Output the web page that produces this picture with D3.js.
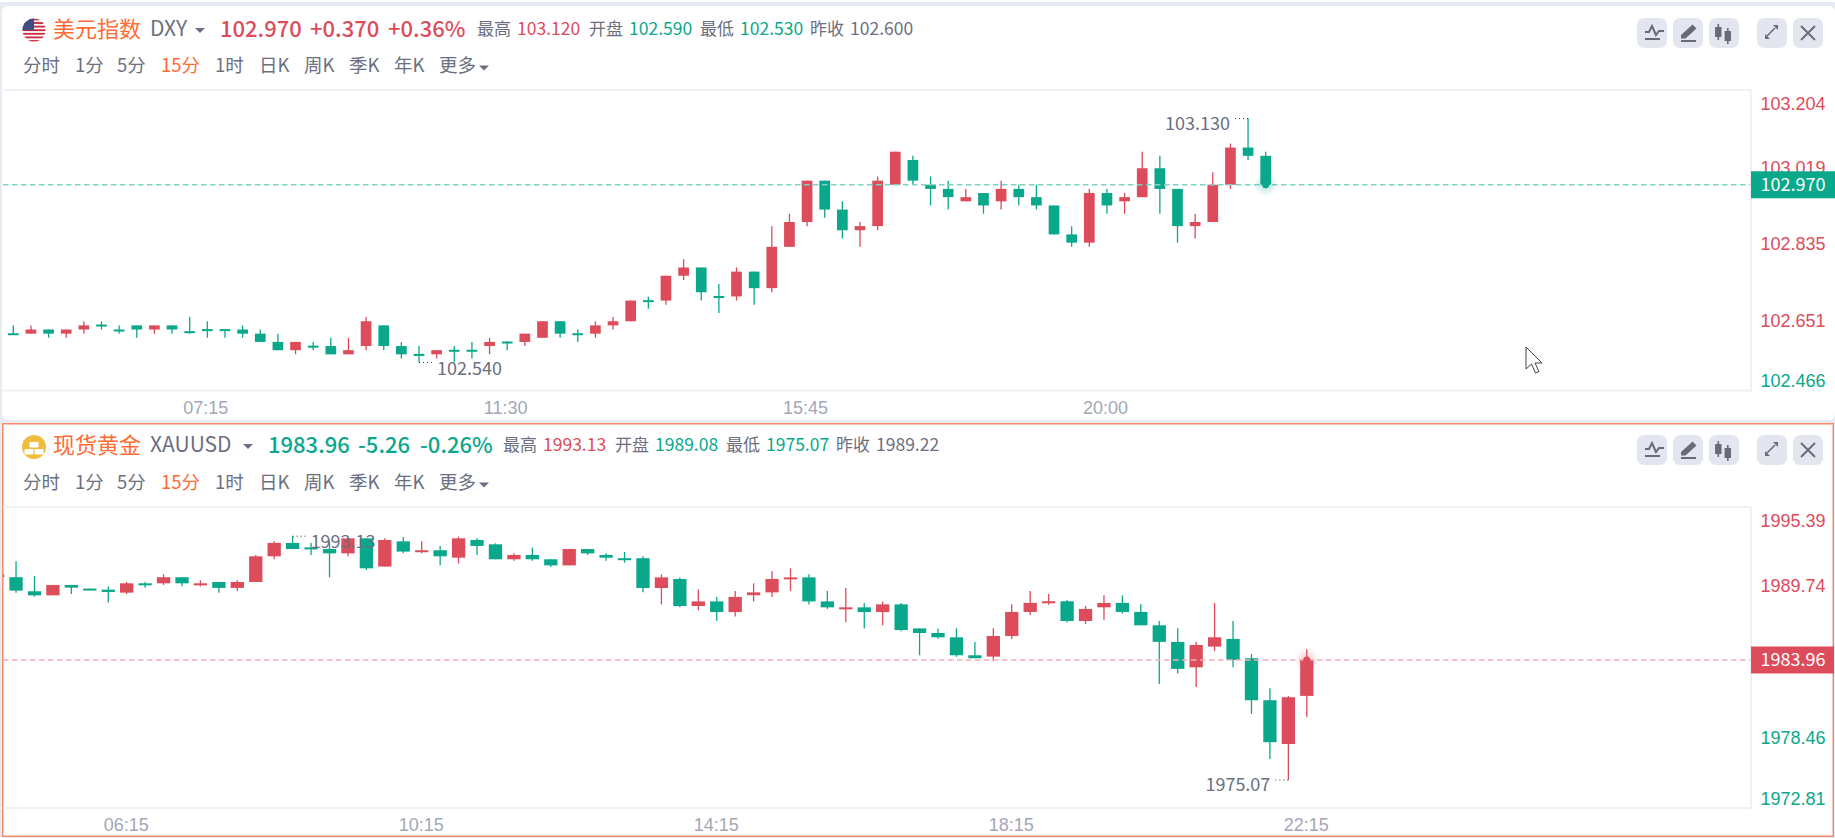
<!DOCTYPE html>
<html>
<head>
<meta charset="utf-8">
<script src="https://d3js.org/d3.v7.min.js"></script>
<style>
html, body { margin: 0; padding: 0; background: #e8ebf1; overflow: hidden; }
svg { display: block; font-family: "Noto Sans CJK SC", "Noto Sans", sans-serif; }
</style>
</head>
<body>
<svg id="chart" width="1835" height="838"></svg>
<script>
// 美元指数 15min candles
const dxyOpen = [102.611,102.61,102.62,102.61,102.62,102.632,102.62,102.63,102.62,102.63,102.616,102.621,102.621,102.62,102.61,102.59,102.57,102.581,102.58,102.56,102.58,102.63,102.58,102.561,102.56,102.571,102.571,102.58,102.591,102.59,102.60,102.64,102.611,102.61,102.63,102.64,102.691,102.69,102.75,102.77,102.701,102.70,102.76,102.72,102.82,102.88,102.98,102.91,102.86,102.87,102.97,103.03,102.97,102.96,102.93,102.95,102.93,102.96,102.94,102.92,102.85,102.83,102.95,102.93,102.94,103.01,102.96,102.87,102.88,102.97,103.06,103.04];
const dxyHigh = [102.63,102.63,102.62,102.62,102.64,102.64,102.63,102.63,102.63,102.63,102.65,102.64,102.621,102.63,102.62,102.61,102.59,102.59,102.60,102.60,102.65,102.63,102.59,102.58,102.57,102.58,102.59,102.60,102.591,102.61,102.64,102.64,102.62,102.64,102.65,102.69,102.70,102.75,102.79,102.77,102.73,102.77,102.76,102.87,102.90,102.98,102.98,102.93,102.88,102.99,103.05,103.04,102.99,102.98,102.96,102.95,102.98,102.97,102.97,102.92,102.87,102.96,102.96,102.95,103.05,103.04,102.96,102.90,103.00,103.07,103.13,103.05];
const dxyLow = [102.609,102.61,102.60,102.60,102.61,102.62,102.61,102.60,102.61,102.61,102.61,102.60,102.60,102.60,102.59,102.57,102.56,102.57,102.56,102.56,102.57,102.57,102.55,102.54,102.55,102.54,102.55,102.56,102.57,102.58,102.60,102.60,102.59,102.60,102.62,102.64,102.67,102.68,102.74,102.69,102.66,102.69,102.68,102.71,102.82,102.87,102.89,102.84,102.82,102.86,102.97,102.97,102.92,102.91,102.93,102.90,102.91,102.92,102.91,102.85,102.82,102.82,102.90,102.90,102.94,102.90,102.83,102.84,102.88,102.96,103.03,102.97];
const dxyClose = [102.609,102.62,102.61,102.62,102.63,102.628,102.618,102.62,102.63,102.62,102.614,102.619,102.619,102.61,102.59,102.57,102.59,102.579,102.56,102.57,102.64,102.58,102.56,102.559,102.57,102.569,102.569,102.59,102.589,102.61,102.64,102.61,102.609,102.63,102.64,102.69,102.689,102.75,102.77,102.71,102.699,102.76,102.72,102.82,102.88,102.98,102.91,102.86,102.87,102.98,103.05,102.98,102.96,102.94,102.94,102.92,102.96,102.94,102.92,102.85,102.83,102.95,102.92,102.94,103.01,102.96,102.87,102.88,102.97,103.06,103.04,102.97];
const dxyTicks = [103.204, 103.019, 102.835, 102.651, 102.466];
const dxyTimeIndex = [11, 28, 45, 62];
const dxyTimeLabels = ["07:15", "11:30", "15:45", "20:00"];
const dxyPrev = 102.6, dxyLast = 102.97;

// 现货黄金 15min candles
const goldOpen = [1990.3,1990.09,1989.05,1988.75,1989.52,1989.25,1989.17,1988.95,1989.64,1989.64,1990.09,1989.52,1989.74,1989.3,1989.74,1991.64,1992.63,1992.3,1992.18,1991.86,1992.97,1990.88,1992.75,1991.99,1992.09,1991.54,1992.85,1992.53,1991.42,1991.74,1991.42,1990.97,1992.18,1991.74,1991.5,1991.5,1989.29,1989.96,1987.96,1988.3,1987.51,1988.76,1988.97,1989.96,1990.08,1988.3,1987.74,1987.86,1987.51,1988.08,1986.3,1985.96,1985.64,1984.31,1984.21,1985.74,1987.52,1988.19,1988.31,1986.85,1987.86,1988.19,1987.52,1986.53,1985.3,1983.42,1984.95,1985.52,1984.09,1980.98,1977.74,1981.3];
const goldHigh = [1990.4,1991.27,1990.18,1989.52,1989.52,1989.25,1989.4,1989.74,1989.74,1990.31,1990.09,1989.86,1989.74,1989.86,1991.74,1992.75,1993.13,1992.63,1992.75,1992.97,1992.97,1992.97,1993.07,1992.75,1992.41,1993.1,1992.97,1992.6,1991.86,1992.3,1991.42,1992.18,1992.18,1991.86,1991.96,1991.64,1990.31,1990.08,1989.19,1988.63,1989.07,1989.64,1990.53,1990.75,1990.31,1989.07,1989.29,1988.18,1988.3,1988.18,1986.3,1986.3,1986.31,1985.3,1986.31,1988.09,1989.07,1988.85,1988.41,1987.96,1988.75,1988.75,1988.09,1986.85,1986.31,1985.3,1988.19,1986.85,1984.41,1981.87,1981.3,1984.75];
const goldLow = [1990.0,1988.95,1988.65,1988.75,1988.85,1989.19,1988.21,1988.85,1989.32,1989.52,1989.42,1989.42,1988.95,1989.07,1989.74,1991.42,1992.18,1991.74,1990.09,1991.64,1990.63,1990.88,1991.86,1991.86,1990.97,1991.1,1991.74,1991.42,1991.32,1991.32,1990.85,1990.97,1991.74,1991.32,1991.17,1988.97,1988.08,1987.86,1987.64,1986.85,1987.19,1988.3,1988.63,1989.07,1988.08,1987.74,1986.75,1986.3,1986.53,1986.08,1984.31,1985.54,1984.2,1984.09,1983.87,1985.52,1987.3,1988.06,1986.73,1986.63,1986.95,1987.4,1986.53,1982.19,1982.95,1981.96,1984.63,1983.42,1979.96,1976.63,1975.07,1979.74];
const goldClose = [1990.1,1989.1,1988.75,1989.52,1989.32,1989.19,1989.0,1989.64,1989.52,1990.09,1989.64,1989.64,1989.3,1989.74,1991.64,1992.63,1992.18,1992.2,1991.86,1992.97,1990.75,1992.85,1991.99,1992.09,1991.64,1992.97,1992.41,1991.42,1991.74,1991.42,1990.97,1992.18,1991.86,1991.54,1991.42,1989.29,1990.08,1987.96,1988.3,1987.51,1988.63,1988.97,1989.96,1990.08,1988.3,1987.86,1987.86,1987.51,1988.08,1986.18,1985.96,1985.64,1984.31,1984.09,1985.74,1987.52,1988.19,1988.31,1986.85,1987.74,1988.19,1987.52,1986.53,1985.3,1983.3,1985.07,1985.64,1983.96,1980.98,1977.87,1981.2,1983.96];
const goldTicks = [1995.39, 1989.74, 1978.46, 1972.81];
const goldTimeIndex = [7, 23, 39, 55, 71];
const goldTimeLabels = ["06:15", "10:15", "14:15", "18:15", "22:15"];
const goldPrev = 1989.22, goldLast = 1983.96;

const periods = ["分时", "1分", "5分", "15分", "1时", "日K", "周K", "季K", "年K", "更多"];
const periodX = [23, 75, 117, 161, 215, 259, 304, 349, 394, 439];
const dxyQuote = ["102.970", "+0.370", "+0.36%"];
const goldQuote = ["1983.96", "-5.26", "-0.26%"];
const statLabels = ["最高", "开盘", "最低", "昨收"];
const dxyStats = ["103.120", "102.590", "102.530", "102.600"];
const goldStats = ["1993.13", "1989.08", "1975.07", "1989.22"];

const RED = "#dc4c5b", GREEN = "#0aa88b", GREY = "#6b6f7f", ORANGE = "#ff6b35";
const svg = d3.select("#chart");

// white strip above the first panel
svg.append("rect").attr("width", 1835).attr("height", 2).attr("fill", "#fff");

function text(g, x, y, str, size, color, anchor) {
    return g.append("text")
        .attr("x", x).attr("y", y).attr("dy", "0.35em")
        .attr("font-size", size).attr("fill", color)
        .attr("text-anchor", anchor || "start")
        .text(str);
}

function caret(g, x, y) {
    g.append("path").attr("d", `M${x - 5},${y - 2}L${x + 5},${y - 2}L${x},${y + 3}Z`).attr("fill", GREY);
}

function drawIcons(g, y) {
    const xs = [1637, 1673, 1709, 1757, 1793];
    xs.forEach(x => g.append("rect").attr("x", x).attr("y", y).attr("width", 30).attr("height", 30).attr("rx", 7).attr("fill", "#e3e6ee"));
    const stroke = (d, w) => g.append("path").attr("d", d).attr("fill", "none").attr("stroke", "#666a79").attr("stroke-width", w);
    const fill = d => g.append("path").attr("d", d).attr("fill", "#666a79");
    // indicator
    stroke(`M1645,${y + 14}h4l3,-6l4,9l3,-4h5`, 2);
    stroke(`M1645,${y + 21}h15`, 2);
    // pencil
    fill(`M1681,${y + 17}l10,-9l1.5,-1.5l4,4l-11,10h-4.5Z`);
    stroke(`M1681,${y + 23}h15`, 2);
    // candles
    fill(`M1717.5,${y + 6}h1.6v3h2.4v10h-2.4v3h-1.6v-3h-2.4v-10h2.4Z`);
    fill(`M1727,${y + 10}h1.6v3h2.4v10h-2.4v3h-1.6v-3h-2.4v-10h2.4Z`);
    // expand
    stroke(`M1767,${y + 18}l8,-8`, 1.6);
    fill(`M1765,${y + 21}v-5l5,5Z`);
    fill(`M1778,${y + 7}v5l-5,-5Z`);
    // close
    stroke(`M1801,${y + 8}l14,14M1815,${y + 8}l-14,14`, 1.8);
}

function drawHeader(g, cfg) {
    text(g, 53, cfg.titleY, cfg.title, 22, ORANGE);
    text(g, 150, cfg.titleY, cfg.symbol, 21, GREY);
    caret(g, cfg.caretX, cfg.titleY + 1);
    const col = cfg.up ? RED : GREEN;
    cfg.quote.forEach((q, i) => text(g, cfg.quoteX[i], cfg.titleY, q, 22, col).attr("font-weight", 500));
    statLabels.forEach((s, i) => {
        const x = cfg.statX + [0, 112, 223, 333][i];
        text(g, x, cfg.titleY, s, 17, GREY);
        const v = cfg.stats[i];
        const c = i === 3 ? GREY : (+v >= cfg.prev ? RED : GREEN);
        text(g, x + 40, cfg.titleY, v, 17.5, c);
    });
    periods.forEach((p, i) => text(g, periodX[i], cfg.rowY, p, 18.5, i === 3 ? ORANGE : GREY));
    caret(g, 484, cfg.rowY + 1.5);
}

function drawCandles(g, cfg) {
    const { open, high, low, close } = cfg;
    const x = d3.scaleLinear().domain([0, 71]).range(cfg.xRange);
    const y = d3.scaleLinear().domain([cfg.ticks[cfg.ticks.length - 1], cfg.ticks[0]]).range(cfg.yRange);
    const [top, bottom] = cfg.plotY;
    const bodyW = cfg.bodyW;
    const color = i => close[i] > open[i] ? RED : GREEN;

    // plot frame
    const frame = "#f0f1f6";
    g.append("line").attr("x1", 3).attr("x2", 1751).attr("y1", top).attr("y2", top).attr("stroke", frame).attr("stroke-width", 2);
    g.append("line").attr("x1", 3).attr("x2", 1751).attr("y1", bottom).attr("y2", bottom).attr("stroke", frame).attr("stroke-width", 2);
    g.append("line").attr("x1", 1751).attr("x2", 1751).attr("y1", top).attr("y2", bottom + 2).attr("stroke", frame).attr("stroke-width", 2);

    const clipId = cfg.id + "-clip";
    svg.append("clipPath").attr("id", clipId).append("rect").attr("x", 3).attr("y", top).attr("width", 1747).attr("height", bottom - top);
    const plot = g.append("g").attr("clip-path", `url(#${clipId})`);

    const idx = d3.range(open.length);
    plot.selectAll(".wick").data(idx).enter().append("line")
        .attr("class", "wick")
        .attr("x1", i => x(i)).attr("x2", i => x(i))
        .attr("y1", i => y(high[i])).attr("y2", i => y(low[i]))
        .attr("stroke", color).attr("stroke-width", 1.3);
    plot.selectAll(".body").data(idx).enter().append("rect")
        .attr("class", "body")
        .attr("x", i => x(i) - bodyW / 2)
        .attr("width", bodyW)
        .attr("y", i => y(Math.max(open[i], close[i])))
        .attr("height", i => Math.max(2, Math.abs(y(open[i]) - y(close[i]))))
        .attr("fill", color);

    // last price line
    const lastY = y(cfg.last);
    const lastCol = cfg.lastUp ? "#f2b0b8" : "#7ed3c3";
    plot.append("line").attr("x1", 3).attr("x2", 1750).attr("y1", lastY).attr("y2", lastY)
        .attr("stroke", lastCol).attr("stroke-width", 1.4).attr("stroke-dasharray", "5.5 3.5");

    // pulsing dot on the last candle
    const lastX = x(71);
    const gradId = cfg.id + "-glow";
    const grad = svg.append("radialGradient").attr("id", gradId);
    const glow = cfg.lastUp ? RED : GREEN;
    grad.append("stop").attr("offset", "30%").attr("stop-color", glow).attr("stop-opacity", 0.22);
    grad.append("stop").attr("offset", "100%").attr("stop-color", glow).attr("stop-opacity", 0);
    plot.append("circle").attr("cx", lastX).attr("cy", lastY).attr("r", 12).attr("fill", `url(#${gradId})`);
    plot.append("circle").attr("cx", lastX).attr("cy", lastY).attr("r", 3.5).attr("fill", glow);

    // y axis
    const axisY = d3.axisRight(y).tickValues(cfg.ticks).tickSize(0).tickPadding(0)
        .tickFormat(d => d.toFixed(cfg.decimals));
    const ya = g.append("g").attr("transform", "translate(1760.5,0)").call(axisY);
    ya.select(".domain").remove();
    ya.selectAll(".tick text")
        .attr("font-family", "inherit").attr("font-size", 18)
        .attr("fill", d => d > cfg.prev ? RED : GREEN)
        .attr("dy", "0.35em")
        .attr("transform", d => {
            const c = Math.min(Math.max(y(d) + 3, top + 13), bottom - 10);
            return `translate(0,${c - y(d)})`;
        });

    // x axis
    const axisX = d3.axisBottom(x).tickValues(cfg.timeIndex).tickSize(0).tickPadding(0)
        .tickFormat((d, i) => cfg.timeLabels[i]);
    const xa = g.append("g").attr("transform", `translate(${cfg.timeShift},${bottom + 17})`).call(axisX);
    xa.select(".domain").remove();
    xa.selectAll(".tick text")
        .attr("font-family", "inherit").attr("font-size", 18)
        .attr("fill", "#a3a7b7").attr("dy", "0.35em");

    // last price tag
    const tagCol = cfg.lastUp ? RED : GREEN;
    g.append("rect").attr("x", 1751).attr("y", lastY - 13.5).attr("width", cfg.tagW).attr("height", 27).attr("fill", tagCol);
    text(g, 1760.5, lastY, cfg.last.toFixed(cfg.decimals), 18, "#fff");

    // high / low markers
    cfg.marks.forEach(m => {
        const my = y(m.value);
        const mx = x(m.i);
        const dir = m.side === "left" ? -1 : 1;
        g.append("line").attr("x1", mx).attr("x2", mx + dir * 16).attr("y1", my).attr("y2", my)
            .attr("stroke", "#333").attr("stroke-width", 1).attr("stroke-dasharray", "1 3");
        text(g, mx + dir * 18, my + m.dy, m.value.toFixed(cfg.decimals), 18, GREY, m.side === "left" ? "end" : "start");
    });
}

// ---- panel 1: DXY
const p1 = svg.append("g");
p1.append("rect").attr("x", 2).attr("y", 6).attr("width", 1833).attr("height", 414).attr("rx", 6).attr("fill", "#fff");

// flag
svg.append("clipPath").attr("id", "flag-clip").append("circle").attr("cx", 34).attr("cy", 30).attr("r", 11.5);
const flag = p1.append("g").attr("clip-path", "url(#flag-clip)");
flag.append("rect").attr("x", 22).attr("y", 18).attr("width", 24).attr("height", 24).attr("fill", "#fff");
d3.range(0, 7).forEach(i => flag.append("rect").attr("x", 22).attr("y", 18.5 + i * 3.6).attr("width", 24).attr("height", 1.8).attr("fill", "#c8283c"));
flag.append("rect").attr("x", 22).attr("y", 18).attr("width", 12).attr("height", 12).attr("fill", "#3f4f86");

drawHeader(p1, {
    title: "美元指数", symbol: "DXY", titleY: 29, rowY: 66, caretX: 200, up: true,
    quote: dxyQuote, quoteX: [220, 310, 388], statX: 477, stats: dxyStats, prev: dxyPrev
});
drawIcons(p1, 18);
drawCandles(p1, {
    id: "dxy", open: dxyOpen, high: dxyHigh, low: dxyLow, close: dxyClose,
    xRange: [13.3, 1265.7], yRange: [393.2, 88], ticks: dxyTicks, plotY: [90, 390.5],
    bodyW: 10.7, decimals: 3, prev: dxyPrev, last: dxyLast, lastUp: false, tagW: 84, timeShift: -2,
    timeIndex: dxyTimeIndex, timeLabels: dxyTimeLabels,
    marks: [{ i: 70, value: 103.13, side: "left", dy: 5 }, { i: 23, value: 102.54, side: "right", dy: 6 }]
});

// cursor
p1.append("path")
    .attr("transform", "translate(1526,347)")
    .attr("d", "M0,0V22L5.5,17L9.5,26L13,24.5L9,16H16Z")
    .attr("fill", "#fff").attr("stroke", "#444").attr("stroke-width", 1);

// ---- panel 2: XAUUSD
const p2 = svg.append("g");
p2.append("rect").attr("x", 2.75).attr("y", 423.75).attr("width", 1830.5).attr("height", 412.5).attr("fill", "#fff")
    .attr("stroke", "#fb8a66").attr("stroke-width", 1.5);

p2.append("circle").attr("cx", 34).attr("cy", 447).attr("r", 12).attr("fill", "#f0bd3f");
[[29.5, 442], [24.5, 449], [34.5, 449]].forEach(b =>
    p2.append("rect").attr("x", b[0]).attr("y", b[1]).attr("width", 9).attr("height", 5.5).attr("rx", 1).attr("fill", "#fff"));

drawHeader(p2, {
    title: "现货黄金", symbol: "XAUUSD", titleY: 445, rowY: 483, caretX: 248, up: false,
    quote: goldQuote, quoteX: [268, 358, 420], statX: 503, stats: goldStats, prev: goldPrev
});
drawIcons(p2, 435);
drawCandles(p2, {
    id: "gold", open: goldOpen, high: goldHigh, low: goldLow, close: goldClose,
    xRange: [-2.4, 1306.8], yRange: [810.5, 505.7], ticks: goldTicks, plotY: [507, 808],
    bodyW: 13.3, decimals: 2, prev: goldPrev, last: goldLast, lastUp: true, tagW: 83, timeShift: -1,
    timeIndex: goldTimeIndex, timeLabels: goldTimeLabels,
    marks: [{ i: 16, value: 1993.13, side: "right", dy: 5 }, { i: 70, value: 1975.07, side: "left", dy: 5 }]
});
</script>
</body>
</html>
